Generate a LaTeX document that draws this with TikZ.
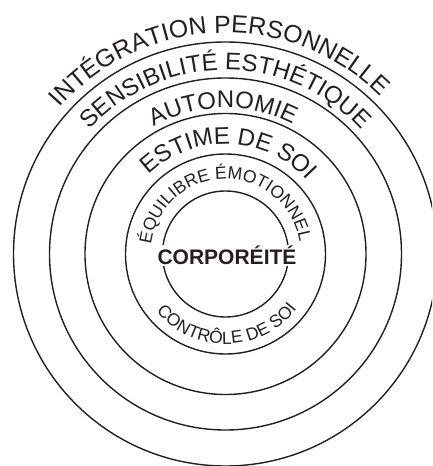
\documentclass[tikz,border=0pt]{standalone}
\usepackage{fontspec}
\setmainfont{Liberation Sans}
\usetikzlibrary{decorations.text}
\definecolor{ink}{HTML}{231F20}
\newcommand{\lblbig}{\fontsize{24pt}{28pt}\selectfont}
\newcommand{\lblouter}{\fontsize{24.8pt}{29pt}\selectfont}
\newcommand{\lblsmall}{\fontsize{17.5pt}{21pt}\selectfont}
\tikzset{
  ring/.style={line width=1.4pt, draw=ink},
  arctext/.style={decorate, decoration={text along path, text align=center, text color=ink, text={#1}}},
  corebox/.style={fill=white, inner sep=1pt, anchor=base, text=ink, font=\bfseries\fontsize{21pt}{25pt}\selectfont},
}
\begin{document}
\begin{tikzpicture}
\useasboundingbox (-225.5pt,-212pt) rectangle (206.5pt,254pt);
\clip (-225.5pt,-212pt) rectangle (206.5pt,254pt);
\foreach \r in {212,176,140.5,100,63} \draw[ring] (0,0) circle[radius=\r pt];
\path[arctext={|\lblouter|INTÉGRATION PERSONNELLE}] (182:221pt) arc[start angle=182,end angle=2,radius=221pt];
\path[arctext={|\lblbig|SENSIBILITÉ ESTHÉTIQUE}] (180:184pt) arc[start angle=180,end angle=0,radius=184pt];
\path[arctext={|\lblbig|AUTONOMIE}] (181:146pt) arc[start angle=181,end angle=1,radius=146pt];
\path[arctext={|\lblbig|ESTIME DE SOI}] (178:110pt) arc[start angle=178,end angle=-2,radius=110pt];
\path[arctext={|\lblsmall|ÉQUILIBRE ÉMOTIONNEL}] (181:75pt) arc[start angle=181,end angle=1,radius=75pt];
\path[arctext={|\lblsmall|CONTRÔLE DE SOI}] (181:90pt) arc[start angle=181,end angle=361,radius=90pt];
\node[corebox] (corp) at (1.5pt,-10.5pt) {CORPORÉITÉ};
\end{tikzpicture}
\end{document}
